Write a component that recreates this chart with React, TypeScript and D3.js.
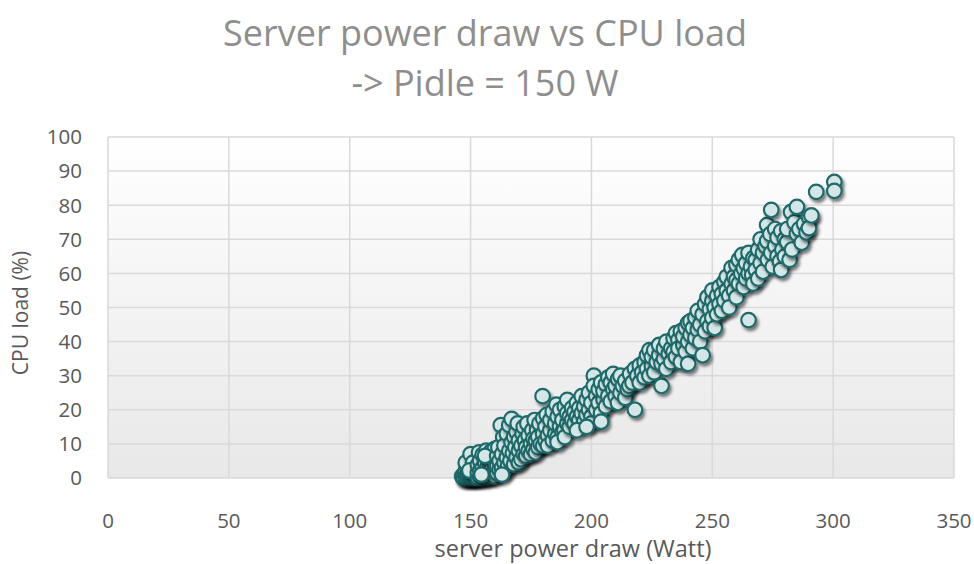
import React from 'react';
import * as d3 from 'd3';

const titleLines = ['Server power draw vs CPU load', '-> Pidle = 150 W'];
const xAxisTitle = 'server power draw (Watt)';
const yAxisTitle = 'CPU load (%)';
const xTicks = [0, 50, 100, 150, 200, 250, 300, 350];
const yTicks = [0, 10, 20, 30, 40, 50, 60, 70, 80, 90, 100];

// [power draw W, CPU load %]
const idleCluster: [number, number][] = [
  [146.5, 0.5], [147, 0], [147.5, 1.2], [148, 0], [148, 2], [148.5, 0.8], [149, 0], [149, 1.5], [149, 3.5],
  [149.5, 0.3], [150, 0], [150, 1], [150, 2.5], [150, 5.5], [150.5, 0.5], [151, 0], [151, 1.8], [151, 3],
  [151.5, 0.2], [152, 0], [152, 1.2], [152, 2.5], [152, 6], [152.5, 0.4], [148, 4.5], [150, 7], [151, 4.5],
  [149.5, 2.2], [153, 0], [153, 1.5], [153, 3.8], [153.5, 7.5], [154, 0.3], [154, 2.2], [154, 5], [155, 0],
  [155, 1], [155, 3], [155, 6.8], [156, 0.5], [156, 2], [156, 4.5], [156.5, 8], [157, 0.2], [157, 1.5],
  [157, 3.2], [157.5, 6], [158, 0.5], [158, 2.8], [158, 4.8], [158.5, 7.8], [159, 1], [159, 3.5], [159.5, 5.5],
  [160, 0.5], [160, 2], [160, 4], [160, 8.5], [154.5, 1], [156, 6.5],
];

const lowLoad: [number, number][] = [
  [161, 1.5], [161, 3.5], [161, 6.5], [161.5, 9], [162, 2.5], [162, 5], [162.5, 15.5], [163, 3], [163, 7],
  [163.5, 12], [164, 4.5], [164, 9.5], [164.5, 2], [165, 6], [165, 13], [165.5, 3.5], [166, 8], [166, 15.5],
  [166.5, 5], [167, 17.3], [167, 10.5], [167.5, 7.3], [168, 4], [168, 12], [168.5, 9], [169, 13.5], [169, 6],
  [169.5, 16], [170, 8], [170, 11], [170, 4.5], [163, 1],
  [171, 5.5], [171, 9.5], [171.5, 13], [172, 7], [172, 15], [172.5, 11], [173, 6.5], [173, 9], [173.5, 16],
  [174, 8], [174, 12.5], [175, 7], [175, 10], [175.5, 14], [176, 8.5], [176, 11.5], [176.5, 17], [177, 11],
  [177, 7.5], [177.5, 14], [178, 9], [178, 12], [178.5, 16], [179, 10], [179.8, 24], [180, 13], [180, 17.5],
  [180, 9.5],
  [181, 11], [181, 15], [181.5, 18.5], [182, 12.5], [182, 9.5], [183, 14], [183, 17], [184, 11], [184, 19.5],
  [185, 13], [185, 16], [185.5, 21.5], [186, 12], [186, 18], [187, 15], [187, 20], [188, 13.5], [188, 17],
  [188.8, 14], [189, 21], [190, 16], [190, 22.9], [190, 19], [186, 10.5], [189, 12],
  [191, 15], [191, 18], [192, 20.5], [192, 17], [193, 19.4], [193, 16], [194, 22], [194, 18], [195, 17],
  [195, 20.5], [196, 24], [196, 19], [197, 21], [197, 16.5], [198, 23], [198, 18.5], [199, 20], [199, 25],
  [200, 18], [200, 22], [200, 16], [194, 14], [198, 15],
];

const midLoad: [number, number][] = [
  [201, 30], [201, 27], [202, 20], [202, 24], [203, 22], [203, 26], [204, 19], [204, 28], [205, 23], [205, 25.5],
  [206, 21], [206, 27.5], [207, 24], [207, 29.5], [208, 22.5], [208, 28], [209, 26], [209, 30.5], [210, 24],
  [210, 27], [211, 22], [211, 29], [212, 25], [212, 30], [213, 27], [214, 23.5], [214, 28.5], [215, 26],
  [215.7, 27], [216, 30.5], [217, 28], [218, 20], [218, 32], [219, 30], [220, 28], [220, 33], [204, 16.5],
  [221, 31], [222, 34], [222, 29.5], [223, 36], [223, 32], [224, 30], [224, 37.5], [225, 33], [225, 35.5],
  [226, 31], [226, 37.5], [227, 34], [228, 36], [228, 39], [229, 27], [229, 33.5], [230, 35], [230, 38],
  [231, 32], [231, 40], [232, 36.5], [233, 34], [233, 38], [234, 41], [234, 37], [235, 35.5], [235, 42.5],
  [236, 40.5], [236, 38], [237, 34], [237, 43], [238, 39], [238, 41.5], [239, 37], [239, 44], [240, 40],
  [240, 45.5], [240, 33.5],
  [241, 42], [241, 46], [242, 38], [242, 44], [243, 47], [243, 41], [244, 43.5], [244, 49], [245, 45],
  [245, 40], [246, 36], [246, 48], [247, 43], [247, 51], [248, 46], [248, 53], [249, 44.5], [249, 49.5],
  [250, 47], [250, 52], [250, 55], [251, 50],
];

const highLoad: [number, number][] = [
  [251, 44], [252, 53.5], [252, 48], [253, 51], [253, 56], [254, 54], [254, 49], [255, 57.5], [255, 52],
  [256, 55], [256, 59], [257, 53.5], [257, 50], [258, 57], [258, 61.6], [259, 55], [259, 59], [260, 58],
  [260, 62.5], [260, 53],
  [261, 57], [261, 64], [262, 60], [262.4, 65.4], [263, 56], [263, 61.5], [264, 63], [264, 58.5], [265, 46.3],
  [265, 60], [265, 66], [266, 62], [266.5, 59.5], [267, 64.5], [267, 57], [268, 64], [268, 61], [269, 67],
  [269, 58.5], [270, 63], [270, 70],
  [271, 66], [271, 60.5], [272, 68], [272.7, 74.2], [272.7, 69.5], [273, 64], [274, 71.5], [274.4, 66],
  [274.4, 78.6], [275, 62], [276, 68], [276, 73], [277, 65], [277, 70.5], [278, 63.5], [278.5, 72.4],
  [278.5, 61], [279, 67], [280, 70], [280, 65],
  [281, 69.2], [281, 73], [282, 64], [282.6, 78], [283, 67], [284, 75], [285, 71.6], [285, 79.5], [286, 73],
  [287, 69], [288, 74.5], [289, 72], [290, 76.5], [290, 73.3], [291, 77],
  [293, 83.9], [300.5, 86.8], [300.5, 84.2],
];

const readings = [...idleCluster, ...lowLoad, ...midLoad, ...highLoad];

export default function App() {
  const W = 974;
  const H = 564;
  const plot = { left: 108, right: 954, top: 137, bottom: 478 };
  const x = d3.scaleLinear().domain([0, 350]).range([plot.left, plot.right]);
  const y = d3.scaleLinear().domain([0, 100]).range([plot.bottom, plot.top]);
  const font = "'Open Sans', 'Noto Sans', sans-serif";

  return (
    <svg width={W} height={H} style={{ position: 'absolute', left: 0, top: 0, background: '#fff' }}>
      <defs>
        <linearGradient id="plotBg" x1="0" y1="0" x2="0" y2="1">
          <stop offset="0%" stopColor="#ffffff" />
          <stop offset="100%" stopColor="#e8e8e8" />
        </linearGradient>
        <filter id="shadow" x="-50%" y="-50%" width="200%" height="200%">
          <feDropShadow dx="2" dy="3" stdDeviation="1.6" floodColor="#000" floodOpacity="0.5" />
        </filter>
      </defs>

      <g fontFamily={font} fill="#8e8e8e" fontSize={36} textAnchor="middle">
        <text x={485} y={46}>{titleLines[0]}</text>
        <text x={485} y={96}>{titleLines[1]}</text>
      </g>

      <rect x={plot.left} y={plot.top} width={plot.right - plot.left} height={plot.bottom - plot.top} fill="url(#plotBg)" />

      <g stroke="#d9d9d9" strokeWidth={1.5}>
        {yTicks.map((t) => (
          <line key={'h' + t} x1={plot.left} x2={plot.right} y1={y(t)} y2={y(t)} />
        ))}
        {xTicks.map((t) => (
          <line key={'v' + t} x1={x(t)} x2={x(t)} y1={plot.top} y2={plot.bottom} />
        ))}
      </g>

      <g fontFamily={font} fill="#595959" fontSize={20.5}>
        {yTicks.map((t) => (
          <text key={'yl' + t} x={plot.left - 26} y={y(t)} dy="0.36em" textAnchor="end">{t}</text>
        ))}
        {xTicks.map((t) => (
          <text key={'xl' + t} x={x(t)} y={521} dy="0.36em" textAnchor="middle">{t}</text>
        ))}
      </g>

      <text x={573} y={557} textAnchor="middle" fontFamily={font} fontSize={23.5} fill="#595959">{xAxisTitle}</text>
      <text transform={`translate(20, 313) rotate(-90)`} dy="0.36em" textAnchor="middle" fontFamily={font} fontSize={21} fill="#595959">{yAxisTitle}</text>

      <g>
        {readings.map((d, i) => (
          <circle key={i} cx={x(d[0])} cy={y(d[1])} r={7.3} fill="#d4e6e6" stroke="#1f6b6b" strokeWidth={2.2} filter="url(#shadow)" />
        ))}
      </g>
    </svg>
  );
}
